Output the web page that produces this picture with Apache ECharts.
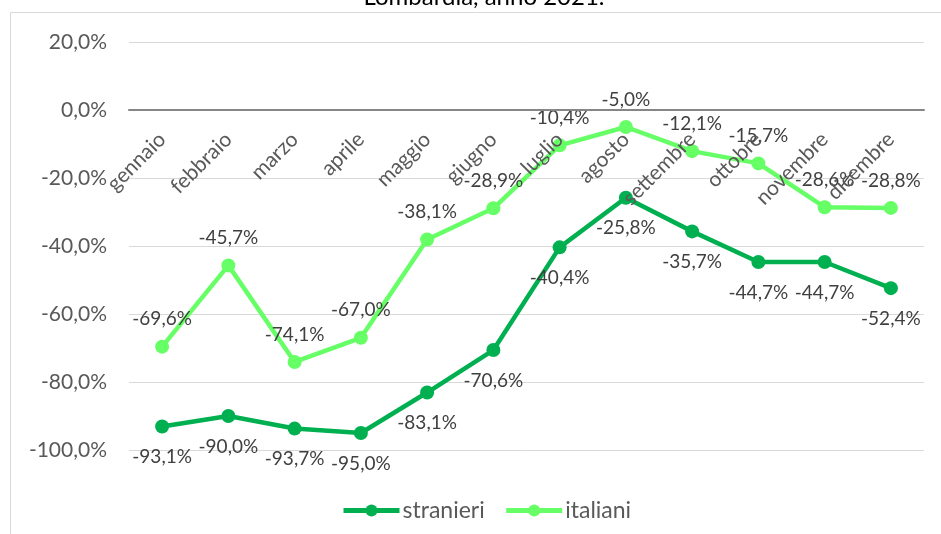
<!DOCTYPE html>
<html><head><meta charset="utf-8">
<script src="https://cdn.jsdelivr.net/npm/echarts@6/dist/echarts.min.js"></script>
<style>html,body{margin:0;padding:0;background:#fff}#c{width:941px;height:534px}</style>
</head><body><div id="c"></div>
<script>
const titleText = 'Lombardia, anno 2021.';
const categories = ['gennaio','febbraio','marzo','aprile','maggio','giugno','luglio','agosto','settembre','ottobre','novembre','dicembre'];
const stranieri = [-93.1,-90.0,-93.7,-95.0,-83.1,-70.6,-40.4,-25.8,-35.7,-44.7,-44.7,-52.4];
const italiani = [-69.6,-45.7,-74.1,-67.0,-38.1,-28.9,-10.4,-5.0,-12.1,-15.7,-28.6,-28.8];
const seriesNames = ['stranieri','italiani'];

const fmt = v => v.toFixed(1).replace('.', ',') + '%';
const FONT = 'Lato';
const chart = echarts.init(document.getElementById('c'));
chart.setOption({
  backgroundColor:'#fff',
  textStyle:{fontFamily:FONT},
  graphic:[
    {type:'rect', shape:{x:10.5,y:12.5,width:1000,height:600}, style:{fill:'none',stroke:'#d9d9d9',lineWidth:1}, z:-1},
    {type:'text', x:484, y:9, style:{text:titleText, font:'24px '+FONT, fill:'#000', textAlign:'center', textVerticalAlign:'bottom'}}
  ],
  grid:{left:129,right:17,top:42,bottom:84,containLabel:false},
  legend:{
    data:seriesNames, bottom:12, left:341, padding:0, itemWidth:56, itemHeight:15, itemGap:19,
    lineStyle:{width:5},
    textStyle:{fontSize:23,color:'#595959',fontFamily:FONT, padding:[0,0,0,-2]}
  },
  xAxis:{
    type:'category', data:categories, boundaryGap:true,
    offset:-340, zlevel:1, z:20,
    axisLine:{onZero:false, lineStyle:{color:'#868686',width:2}},
    axisTick:{show:false},
    axisLabel:{interval:0, rotate:45, fontSize:21, color:'#595959', fontFamily:FONT, margin:26}
  },
  yAxis:{
    type:'value', min:-100, max:20, interval:20,
    axisLine:{show:false}, axisTick:{show:false},
    splitLine:{lineStyle:{color:'#d9d9d9',width:1}},
    axisLabel:{formatter:fmt, fontSize:21, color:'#595959', fontFamily:FONT, margin:22}
  },
  series:[
    {name:seriesNames[0], type:'line', data:stranieri, color:'#00B050', z:2,
     lineStyle:{width:4.5}, symbol:'circle', symbolSize:14,
     label:{show:true, position:'bottom', distance:14, formatter:p=>fmt(p.value), fontSize:19, color:'#404040', fontFamily:FONT}},
    {name:seriesNames[1], type:'line', data:italiani, color:'#66FF66', z:2,
     lineStyle:{width:4.5}, symbol:'circle', symbolSize:14,
     label:{show:true, position:'top', distance:11, formatter:p=>fmt(p.value), fontSize:19, color:'#404040', fontFamily:FONT}}
  ]
});
</script></body></html>
